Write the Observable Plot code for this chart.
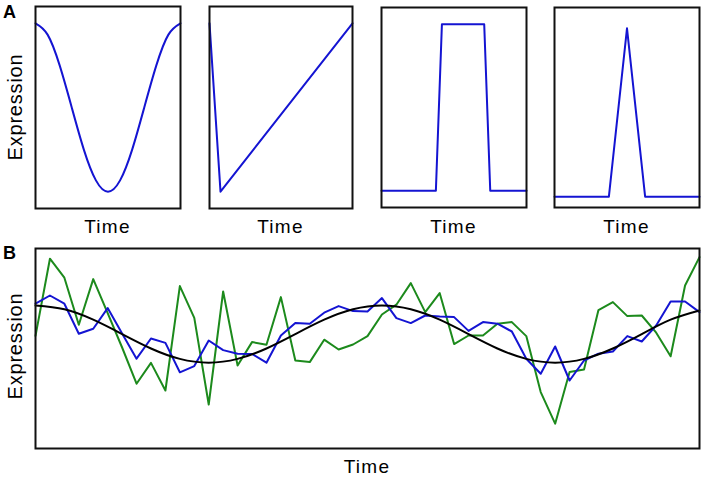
<!DOCTYPE html>
<html>
<head>
<meta charset="utf-8">
<script src="https://cdn.jsdelivr.net/npm/d3@7"></script>
<script src="https://cdn.jsdelivr.net/npm/@observablehq/plot@0.6"></script>
<style>
  html, body { margin: 0; padding: 0; background: #fff; }
  #chart { position: relative; width: 703px; height: 477px; overflow: hidden; font-family: "Liberation Sans", Arial, Helvetica, sans-serif; color: #000; }
  .panel { position: absolute; }
  .panel svg { overflow: visible; display: block; }
  .lbl { position: absolute; white-space: nowrap; font-size: 19px; letter-spacing: 1.3px; transform: translate(-50%, -50%); }
  .ylbl { position: absolute; white-space: nowrap; font-size: 20px; letter-spacing: 0.8px; transform: translate(-50%, -50%) rotate(-90deg); }
  .tag { position: absolute; font-weight: bold; font-size: 18px; }
</style>
</head>
<body>
<div id="chart"></div>
<script>
// ---------- Panel A data ----------
const a1Time = [0, 1, 2, 3, 4, 5, 6, 7, 8, 9, 10, 11, 12];
const a1Expr = [1, 0.933, 0.75, 0.5, 0.25, 0.067, 0, 0.067, 0.25, 0.5, 0.75, 0.933, 1];

const a2Time = [0, 1, 13];
const a2Expr = [1, 0, 1];

const a3Time = [0, 9, 10, 17, 18, 24];
const a3Expr = [0, 0, 1, 1, 0, 0];

const a4Time = [0, 3, 4, 5, 8];
const a4Expr = [-0.035, -0.035, 0.975, -0.035, -0.035];

// ---------- Panel B data ----------
const bTime = [0, 1, 2, 3, 4, 5, 6, 7, 8, 9, 10, 11, 12, 13, 14, 15, 16, 17, 18, 19, 20, 21, 22, 23,
               24, 25, 26, 27, 28, 29, 30, 31, 32, 33, 34, 35, 36, 37, 38, 39, 40, 41, 42, 43, 44, 45, 46];
const greenExpr = [5.63, 9.49, 8.54, 6.19, 8.47, 6.77, 5.05, 3.24, 4.28, 2.90, 8.12, 6.53, 2.20, 7.85, 4.15, 5.32,
                   5.19, 7.57, 4.40, 4.32, 5.44, 4.95, 5.20, 5.62, 6.70, 7.19, 8.27, 6.82, 7.77, 5.22, 5.65, 5.65,
                   6.24, 6.32, 5.62, 2.82, 1.24, 3.82, 3.95, 6.92, 7.32, 6.62, 6.65, 5.79, 4.61, 8.15, 9.57];
const blueExpr = [7.24, 7.65, 7.24, 5.74, 5.99, 7.02, 5.75, 4.49, 5.50, 5.28, 3.81, 4.12, 5.40, 4.92, 4.74, 4.73,
                  4.29, 5.65, 6.27, 6.24, 6.79, 7.12, 6.87, 6.85, 7.52, 6.52, 6.27, 6.65, 6.60, 6.57, 5.88, 6.32,
                  6.24, 5.85, 4.49, 3.74, 5.10, 3.40, 4.40, 4.74, 4.85, 5.62, 5.35, 6.15, 7.35, 7.35, 6.82];
const blackTime = [0, 2, 4, 6, 8, 10, 12, 14, 16, 18, 20, 22, 24, 26, 28, 30, 32, 34, 36, 38, 40, 42, 44, 46];
const blackExpr = [7.15, 6.96, 6.44, 5.72, 5.00, 4.48, 4.29, 4.48, 5.00, 5.72, 6.44, 6.96,
                   7.15, 6.96, 6.44, 5.72, 5.00, 4.48, 4.29, 4.48, 5.00, 5.72, 6.44, 6.90];

const xLabel = "Time";
const yLabel = "Expression";
const panelTags = ["A", "B"];

// ---------- helpers ----------
const BLUE = "#1414d2";
const GREEN = "#1c8a1c";
const chart = document.getElementById("chart");

function toRows(xs, ys) { return xs.map((x, i) => ({time: x, expr: ys[i]})); }

function addPanel(box, xDomain, yDomain, lines) {
  const svg = Plot.plot({
    width: box.w + 2,
    height: box.h + 2,
    margin: 1,
    x: {domain: xDomain, axis: null},
    y: {domain: yDomain, axis: null},
    marks: [
      ...lines.map(l => Plot.line(l.data, {x: "time", y: "expr", stroke: l.color, strokeWidth: l.width, curve: l.curve || "linear"})),
      Plot.frame({stroke: "#111", strokeWidth: 2})
    ]
  });
  const wrap = document.createElement("div");
  wrap.className = "panel";
  wrap.style.left = (box.x - 1) + "px";
  wrap.style.top = (box.y - 1) + "px";
  wrap.appendChild(svg);
  chart.appendChild(wrap);
}

function addText(cls, text, x, y) {
  const d = document.createElement("div");
  d.className = cls;
  d.textContent = text;
  d.style.left = x + "px";
  d.style.top = y + "px";
  chart.appendChild(d);
}

// ---------- Panel A ----------
const aDomain = [-0.1, 1.1];
const boxes = [
  {x: 35, y: 6, w: 145, h: 202},
  {x: 209, y: 6, w: 143, h: 202},
  {x: 381, y: 7, w: 145, h: 200},
  {x: 554, y: 7, w: 145, h: 200}
];
addPanel(boxes[0], [0, 12], aDomain, [{data: toRows(a1Time, a1Expr), color: BLUE, width: 2, curve: "natural"}]);
addPanel(boxes[1], [0, 13], aDomain, [{data: toRows(a2Time, a2Expr), color: BLUE, width: 2}]);
addPanel(boxes[2], [0, 24], aDomain, [{data: toRows(a3Time, a3Expr), color: BLUE, width: 2}]);
addPanel(boxes[3], [0, 8], aDomain, [{data: toRows(a4Time, a4Expr), color: BLUE, width: 2}]);
boxes.forEach(b => addText("lbl", xLabel, b.x + b.w / 2, 227));
addText("ylbl", yLabel, 15, 107);
addText("tag", panelTags[0], 3, 2);

// ---------- Panel B ----------
const boxB = {x: 35, y: 248, w: 664, h: 200};
addPanel(boxB, [0, 46], [0, 10], [
  {data: toRows(bTime, greenExpr), color: GREEN, width: 2},
  {data: toRows(bTime, blueExpr), color: BLUE, width: 2},
  {data: toRows(blackTime, blackExpr), color: "#000", width: 2, curve: "natural"}
]);
addText("lbl", xLabel, boxB.x + boxB.w / 2, 467);
addText("ylbl", yLabel, 15, 346);
addText("tag", panelTags[1], 3, 243);
</script>
</body>
</html>
